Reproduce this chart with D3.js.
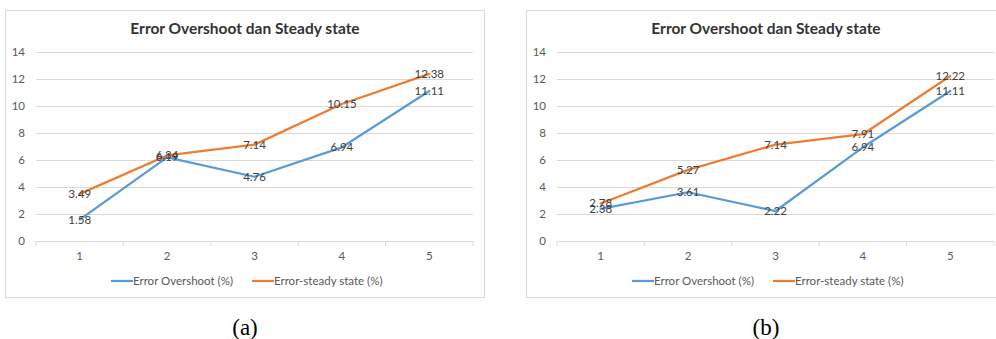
<!DOCTYPE html>
<html><head><meta charset="utf-8">
<script src="https://cdn.jsdelivr.net/npm/d3@7"></script>
<style>
html,body{margin:0;padding:0;background:#fff;}
svg{display:block;}
</style></head>
<body>
<svg id="chart" width="996" height="339"></svg>
<script>
const categories = ["1", "2", "3", "4", "5"];
const overshootA = [1.58, 6.19, 4.76, 6.94, 11.11];
const steadyA = [3.49, 6.34, 7.14, 10.15, 12.38];
const overshootB = [2.38, 3.61, 2.22, 6.94, 11.11];
const steadyB = [2.78, 5.27, 7.14, 7.91, 12.22];
const yTicks = [0, 2, 4, 6, 8, 10, 12, 14];
const seriesNames = ["Error Overshoot (%)", "Error-steady state (%)"];
const chartTitle = "Error Overshoot dan Steady state";
const captions = ["(a)", "(b)"];

const colors = ["#5B9BD5", "#ED7D31"];
const font = "Lato, 'Open Sans', sans-serif";
const svg = d3.select("#chart");

function drawPanel(ox, over, steady, caption) {
  const g = svg.append("g").attr("transform", `translate(${ox},0)`);
  g.append("rect").attr("x", 5.5).attr("y", 10.5).attr("width", 479).attr("height", 287)
    .attr("fill", "#fff").attr("stroke", "#D9D9D9").attr("stroke-width", 1);

  g.append("text").attr("x", 245).attr("y", 34).attr("text-anchor", "middle")
    .attr("font-family", font).attr("font-weight", "bold").attr("font-size", 15.5)
    .attr("fill", "#333").text(chartTitle);

  const x = d3.scaleBand().domain(categories).range([36, 473]);
  const y = d3.scaleLinear().domain([0, 14]).range([241, 52]);

  const ya = g.append("g").attr("transform", "translate(36,0)")
    .call(d3.axisLeft(y).tickValues(yTicks).tickSize(-(473 - 36)).tickPadding(11).tickFormat(d3.format("d")));
  ya.select(".domain").remove();
  ya.selectAll(".tick line").attr("stroke", "#D9D9D9").attr("stroke-width", 1);
  ya.selectAll(".tick text").attr("font-family", font).attr("font-size", 11.5).attr("fill", "#595959");

  const xa = g.append("g").attr("transform", `translate(0,${y(0)})`)
    .call(d3.axisBottom(x).tickSize(0).tickPadding(11));
  xa.select(".domain").attr("stroke", "#D9D9D9");
  xa.selectAll(".tick text").attr("font-family", font).attr("font-size", 11.5).attr("fill", "#595959");
  const bounds = categories.map(c => x(c)).concat([x(categories[categories.length - 1]) + x.bandwidth()]);
  g.selectAll(".bt").data(bounds).enter().append("line")
    .attr("x1", d => d).attr("x2", d => d).attr("y1", y(0)).attr("y2", y(0) + 5)
    .attr("stroke", "#D9D9D9");

  const line = d3.line().x((d, i) => x(categories[i]) + x.bandwidth() / 2).y(d => y(d));
  [over, steady].forEach((s, k) => {
    g.append("path").datum(s).attr("d", line).attr("fill", "none")
      .attr("stroke", colors[k]).attr("stroke-width", 2.25)
      .attr("stroke-linejoin", "round").attr("stroke-linecap", "round");
  });
  [over, steady].forEach((s, k) => {
    g.selectAll(".lbl" + k).data(s).enter().append("text")
      .attr("x", (d, i) => x(categories[i]) + x.bandwidth() / 2)
      .attr("y", d => y(d)).attr("dy", "0.35em").attr("text-anchor", "middle")
      .attr("font-family", font).attr("font-size", 11.5).attr("fill", "#404040")
      .text(d => d.toFixed(2));
  });

  const legX = [111, 252];
  seriesNames.forEach((n, k) => {
    g.append("line").attr("x1", legX[k]).attr("x2", legX[k] + 22).attr("y1", 281).attr("y2", 281)
      .attr("stroke", colors[k]).attr("stroke-width", 2.25);
    g.append("text").attr("x", legX[k] + 22).attr("y", 281).attr("dy", "0.35em")
      .attr("font-family", font).attr("font-size", 11.5).attr("fill", "#595959").text(n);
  });

  g.append("text").attr("x", 245).attr("y", 335).attr("text-anchor", "middle")
    .attr("font-family", "'Liberation Serif', 'Times New Roman', serif").attr("font-size", 23)
    .attr("fill", "#000").text(caption);
}

drawPanel(0, overshootA, steadyA, captions[0]);
drawPanel(521, overshootB, steadyB, captions[1]);
</script>
</body></html>
